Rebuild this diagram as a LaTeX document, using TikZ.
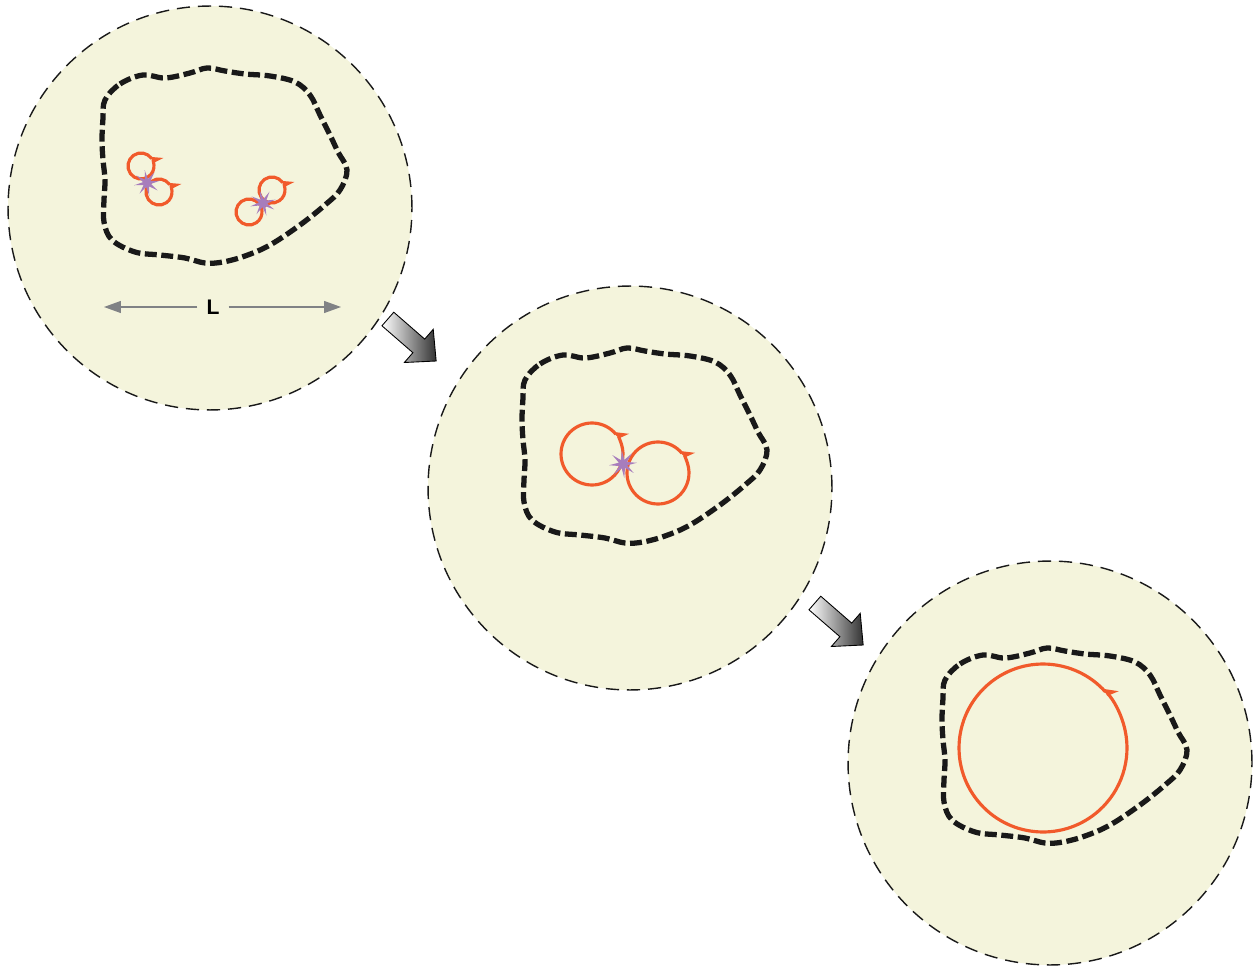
\documentclass[tikz,border=0pt]{standalone}
\usepackage{fontspec}
\setsansfont{Liberation Sans}
\usetikzlibrary{shapes.geometric,arrows.meta}
\definecolor{cream}{HTML}{F4F4DC}
\definecolor{orangec}{HTML}{F15A2B}
\definecolor{purplec}{HTML}{A77DBC}
\definecolor{grayc}{HTML}{808285}
\begin{document}
\begin{tikzpicture}[x=0.02cm,y=-0.02cm,
  disk/.style={circle, draw=black!90, line width=0.8pt, dash pattern=on 7.5pt off 4.5pt, fill=cream, minimum size=8.08cm, inner sep=0pt},
  blobline/.style={draw=black!90, line width=3pt, dash pattern=on 6.8pt off 2.6pt},
  loopc/.style={draw=orangec, line width=1.8pt, -{Stealth[harpoon,swap,length=#1,width=1.4*#1,inset=0.3*#1]}},
  spark/.style={star, star points=8, star point ratio=3.2, fill=purplec, draw=none, minimum size=0.52cm, inner sep=0pt},
  garrowline/.style={draw=black, line width=0.5pt, left color=white, right color=black!80},
  larrow/.style={draw=grayc, line width=0.7pt, -{Triangle[length=0.34cm,width=0.24cm]}},
  blobpic/.pic={\draw[blobline] plot[smooth cycle, tension=0.6] coordinates{
    (105,100) (120,84) (143,75) (165,78) (190,73) (207,68) (225,71) (245,74) (270,76) (295,82) (310,95) (320,115) (330,135) (338,152) (347,170) (340,190) (325,205) (300,225) (270,245) (245,256) (223,262) (205,263) (185,258) (160,255) (135,252) (112,240) (104,222) (104,200) (105,180) (103,160) (102,140) (103,118)};},
  blockarrow/.pic={\shade[garrowline] (-32,-9) -- (9,-9) -- (9,-22) -- (32,0) -- (9,22) -- (9,9) -- (-32,9) -- cycle;}
]
\useasboundingbox (0,0) rectangle (1260,969);

% disks
\node[disk] (c1) at (210,208) {};
\node[disk] (c2) at (630,488) {};
\node[disk] (c3) at (1050,763) {};

% boundaries
\pic (b1) at (0,0) {blobpic};
\pic (b2) at (420,280) {blobpic};
\pic (b3) at (840,580) {blobpic};

% panel 1 loops
\coordinate (l1a) at (141,166);
\coordinate (l1b) at (159,192);
\coordinate (l1c) at (272,190);
\coordinate (l1d) at (249,212);
\draw[loopc=6pt] (l1a) ++(35:0.26cm) arc[start angle=35, end angle=410, radius=0.26cm];
\draw[loopc=6pt] (l1b) ++(35:0.26cm) arc[start angle=35, end angle=410, radius=0.26cm];
\draw[loopc=6pt] (l1c) ++(35:0.26cm) arc[start angle=35, end angle=410, radius=0.26cm];
\draw[loopc=6pt] (l1d) ++(35:0.26cm) arc[start angle=35, end angle=410, radius=0.26cm];
\node[spark, rotate=10] (s1) at (147,183) {};
\node[spark, rotate=15] (s2) at (263,203) {};

% length marker
\node[font=\sffamily\bfseries\fontsize{12}{14}\selectfont, inner sep=5pt] (L) at (213,307) {L};
\coordinate (La) at (104,307);
\coordinate (Lb) at (341,307);
\draw[larrow] (L) -- (La);
\draw[larrow] (L) -- (Lb);

% panel 2 loops
\coordinate (l2a) at (592,454);
\coordinate (l2b) at (658,473);
\draw[loopc=7pt] (l2a) ++(40:0.62cm) arc[start angle=40, end angle=408, radius=0.62cm];
\draw[loopc=7pt] (l2b) ++(40:0.62cm) arc[start angle=40, end angle=408, radius=0.62cm];
\node[spark, rotate=5, minimum size=0.56cm] (s3) at (623,464) {};

% panel 3 loop
\coordinate (l3) at (1043,748);
\draw[loopc=7.5pt] (l3) ++(42:1.68cm) arc[start angle=42, end angle=406, radius=1.68cm];

% transition arrows
\pic[rotate=-41] (a1) at (412,340) {blockarrow};
\pic[rotate=-41] (a2) at (839,624) {blockarrow};
\end{tikzpicture}
\end{document}
